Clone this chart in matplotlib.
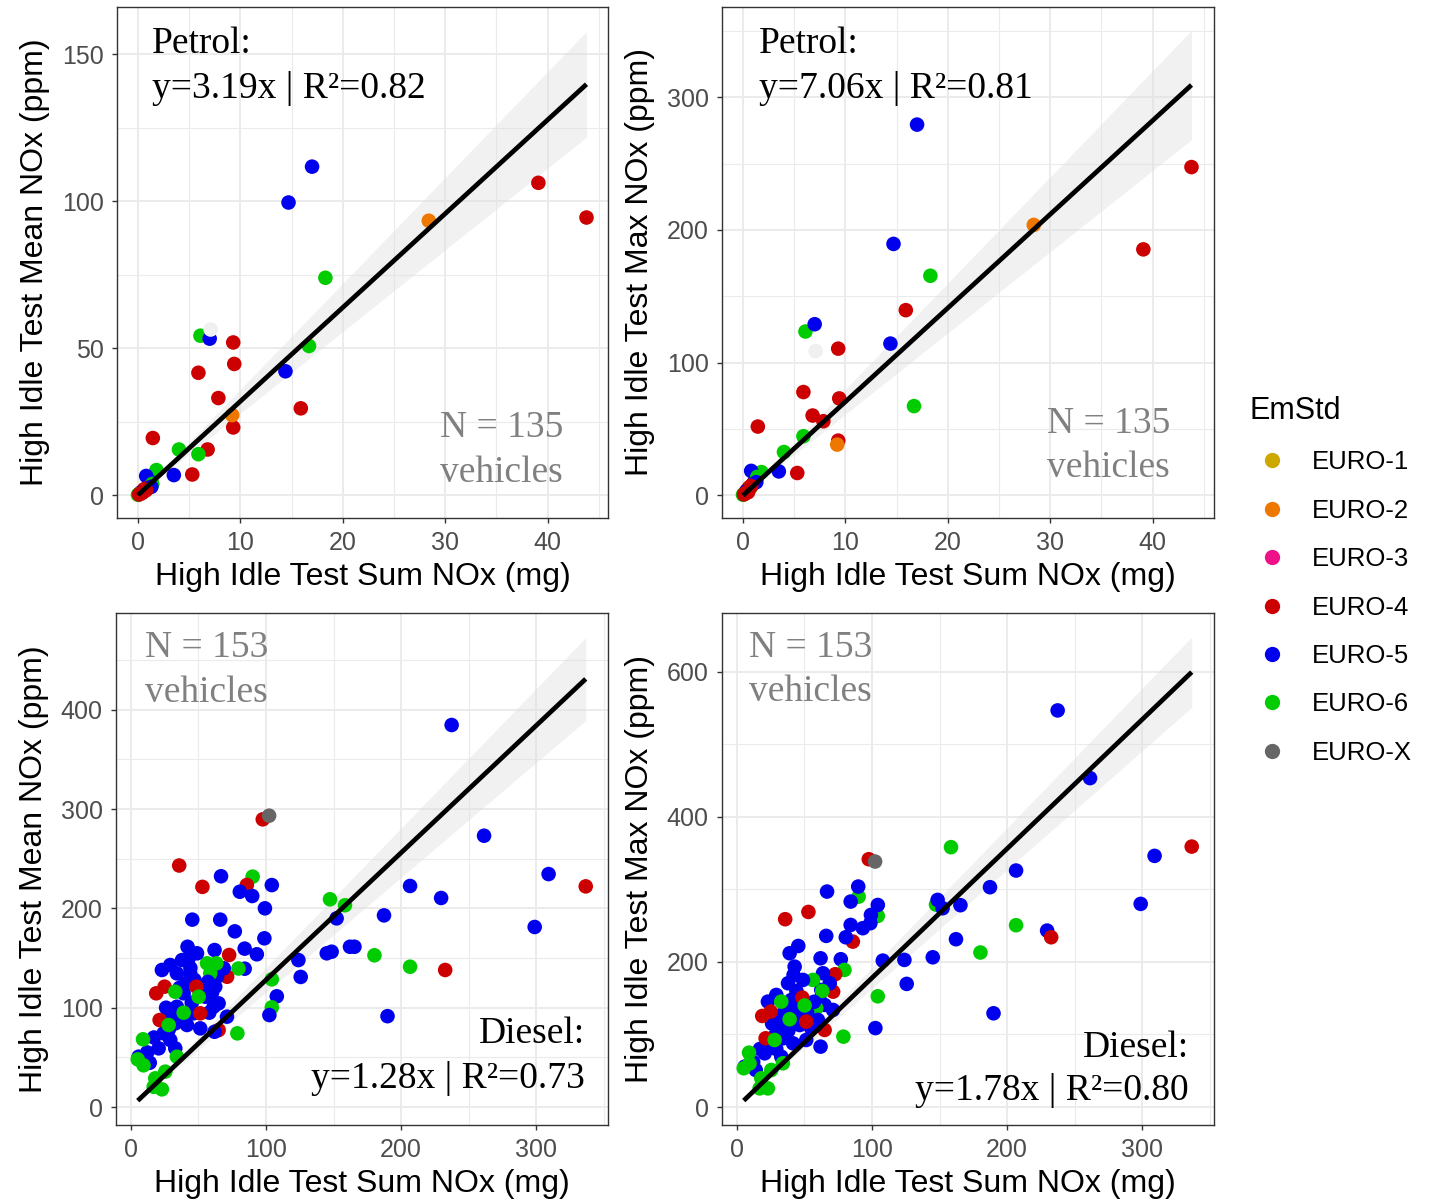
import matplotlib.pyplot as plt
from matplotlib.lines import Line2D
from matplotlib.ticker import MultipleLocator

plt.rcParams['font.family'] = ['Liberation Sans', 'DejaVu Sans']

std_colors = {
    "EURO-1": "#CCA800",
    "EURO-2": "#EE7700",
    "EURO-3": "#EE1188",
    "EURO-4": "#CC0000",
    "EURO-5": "#0000EE",
    "EURO-6": "#00CC00",
    "EURO-X": "#666666",
    "NA": "#F0F0F0",
}
legend_stds = ["EURO-1", "EURO-2", "EURO-3", "EURO-4", "EURO-5", "EURO-6", "EURO-X"]

# petrol vehicles: summed NOx (mg), mean and max NOx (ppm), emission standard
petrol_sum = [17.0, 14.7, 14.4, 39.1, 43.8, 28.4, 18.3, 16.7, 6.1, 7.0, 7.1, 9.3,
              9.4, 5.9, 7.85, 9.3, 9.2, 15.9, 1.45, 4.0, 6.8, 5.9, 5.3, 3.5, 1.8, 0.8,
              1.2, 1.0, 1.4, 0.6, 0.9, 0.4, 0.2, 1.3, 0.7, 0.3, 0.1, 0.0, 0.5, 0.2,
              0.8, 0.4, 0.1]
petrol_mean = [111.7, 99.5, 42.1, 106.2, 94.4, 93.3, 73.9, 50.7, 54.2, 53.2, 56.3, 51.9,
               44.6, 41.6, 33.0, 23.0, 27.2, 29.5, 19.4, 15.5, 15.5, 13.9, 7.0, 6.8, 8.5, 6.5,
               4.5, 3.0, 3.8, 2.0, 2.4, 1.2, 0.6, 2.8, 1.5, 0.9, 0.3, 0.1, 1.0, 0.4,
               1.7, 0.7, 0.2]
petrol_max = [279.4, 189.5, 114.4, 185.4, 247.4, 203.8, 165.5, 67.3, 123.5, 129.0, 108.8, 110.6,
              73.1, 77.9, 55.9, 41.3, 38.3, 139.6, 51.9, 32.7, 60.2, 44.6, 16.9, 18.1, 17.6, 18.5,
              12.0, 9.0, 14.0, 6.0, 8.0, 4.0, 2.0, 10.0, 5.5, 3.0, 1.0, 0.5, 2.5, 1.5,
              7.0, 2.2, 0.8]
petrol_std = ["EURO-5", "EURO-5", "EURO-5", "EURO-4", "EURO-4", "EURO-2", "EURO-6", "EURO-6",
              "EURO-6", "EURO-5", "NA", "EURO-4", "EURO-4", "EURO-4", "EURO-4", "EURO-4",
              "EURO-2", "EURO-4", "EURO-4", "EURO-6", "EURO-4", "EURO-6", "EURO-4", "EURO-5",
              "EURO-6", "EURO-5", "EURO-5", "EURO-5", "EURO-6", "EURO-4", "EURO-4", "EURO-4",
              "EURO-4", "EURO-5", "EURO-6", "EURO-5", "EURO-6", "EURO-6", "EURO-4", "EURO-4",
              "EURO-4", "EURO-4", "EURO-4"]

# diesel vehicles
diesel_sum = [237.5, 261.5, 309.3, 336.8, 299.0, 206.7, 229.7, 232.7, 187.4, 206.7, 180.3,
              190.0, 158.5, 147.4, 148.6, 152.3, 165.5, 162.2, 145.0, 124.0, 125.7, 108.0,
              104.3, 104.3, 102.5, 97.6, 102.3, 104.3, 99.2, 98.8, 90.1, 85.8, 80.6, 89.8,
              66.7, 52.9, 35.7, 45.4, 66.1, 76.9, 93.2, 84.2, 84.2, 79.6, 72.7, 71.2, 78.8,
              64.9, 61.9, 68.7, 63.7, 62.4, 64.9, 61.2, 71.1, 61.9, 56.3, 63.2, 58.7, 55.0,
              51.3, 48.9, 46.4, 43.9, 42.7, 41.9, 41.5, 40.2, 39.0, 37.8, 34.0, 34.0, 32.8,
              32.8, 29.1, 29.1, 24.2, 22.9, 20.5, 13.9, 5.7,
              44.0, 47.0, 52.0, 57.0, 60.0, 36.0, 30.0, 26.0, 45.0, 58.0, 17.0, 12.0, 28.0, 38.0,
              48.4, 24.9, 18.7, 51.3, 21.2,
              32.8, 50.1, 39.0, 27.9, 8.9, 9.3, 18.0, 25.4, 22.9, 16.8, 34.0, 5.0]
diesel_mean = [384.7, 273.2, 234.6, 222.2, 181.3, 222.6, 210.5, 138.0, 193.0, 141.3, 152.8,
               91.5, 203.2, 209.2, 156.4, 190.0, 161.4, 161.4, 154.8, 148.0, 131.0, 111.5,
               128.6, 100.4, 92.6, 289.7, 293.4, 223.5, 200.1, 169.9, 232.0, 223.6, 216.8, 212.5,
               232.4, 221.7, 243.2, 188.7, 188.7, 176.9, 153.8, 159.5, 139.3, 139.5, 153.1, 131.2, 74.2,
               77.5, 158.1, 139.7, 131.2, 121.2, 104.4, 101.0, 91.0, 75.8, 144.7, 144.7, 134.6, 111.1,
               79.2, 154.8, 94.4, 134.6, 149.7, 161.4, 82.6, 124.6, 114.5, 148.0, 134.6, 101.0, 84.3,
               59.1, 143.0, 67.5, 74.2, 138.0, 59.1, 44.6, 50.7,
               140.0, 128.0, 118.0, 126.0, 115.0, 120.0, 95.0, 100.0, 105.0, 95.0, 70.0, 55.0, 78.0, 88.0,
               121.2, 121.2, 114.5, 94.4, 87.6,
               116.1, 111.1, 95.0, 82.6, 68.2, 42.0, 28.9, 35.6, 17.8, 20.4, 50.7, 48.0]
diesel_max = [546.7, 453.4, 346.2, 359.0, 280.0, 326.0, 243.2, 234.0, 303.0, 250.6, 213.0,
              129.2, 358.2, 279.0, 285.5, 274.0, 278.2, 231.3, 206.4, 202.8, 169.7, 201.8,
              263.4, 152.6, 108.8, 341.6, 338.4, 278.5, 264.8, 253.4, 290.0, 228.0, 234.0, 303.9,
              297.0, 268.9, 258.9, 222.0, 235.9, 203.7, 246.5, 283.2, 251.0, 189.0, 183.0, 159.0, 97.0,
              106.2, 205.0, 170.6, 184.4, 161.4, 140.7, 147.6, 133.8, 83.2, 175.2, 160.0, 136.1, 108.5,
              92.4, 175.2, 113.0, 133.8, 193.5, 182.0, 87.8, 147.6, 212.0, 170.6, 113.1, 94.7, 126.9,
              69.4, 154.5, 80.0, 88.0, 145.3, 74.0, 51.0, 55.6,
              160.0, 150.0, 130.0, 145.0, 120.0, 138.0, 110.0, 115.0, 125.0, 112.0, 80.0, 62.0, 98.0, 105.0,
              150.8, 131.5, 125.5, 117.7, 94.7,
              145.3, 140.0, 121.0, 92.4, 74.9, 60.0, 39.6, 51.0, 25.7, 25.7, 60.3, 53.4]
diesel_std = (["EURO-5", "EURO-5", "EURO-5", "EURO-4", "EURO-5", "EURO-5", "EURO-5", "EURO-4",
               "EURO-5", "EURO-6", "EURO-6", "EURO-5", "EURO-6", "EURO-6", "EURO-5", "EURO-5",
               "EURO-5", "EURO-5", "EURO-5", "EURO-5", "EURO-5", "EURO-5", "EURO-6", "EURO-6",
               "EURO-5", "EURO-4", "EURO-X", "EURO-5", "EURO-5", "EURO-5", "EURO-6", "EURO-4",
               "EURO-5", "EURO-5", "EURO-5", "EURO-4", "EURO-4", "EURO-5", "EURO-5", "EURO-5",
               "EURO-5", "EURO-5", "EURO-5", "EURO-6", "EURO-4", "EURO-4", "EURO-6", "EURO-4"]
              + ["EURO-5"] * 8 + ["EURO-6"] * 3 + ["EURO-5"] * 36
              + ["EURO-4"] * 5 + ["EURO-6"] * 12)

fits = {
    "petrol_mean": (3.19, 0.82), "petrol_max": (7.06, 0.81),
    "diesel_mean": (1.28, 0.73), "diesel_max": (1.78, 0.80),
}

W, H = 1432, 1202
fig = plt.figure(figsize=(W / 100, H / 100), dpi=100)

serif = ['Liberation Serif', 'DejaVu Serif']


def make_panel(rect, x, y, std, fit, band, xlim, ylim, xstep, ystep, ylabel):
    ax = fig.add_axes(rect)
    ax.set_xlim(xlim)
    ax.set_ylim(ylim)
    ax.xaxis.set_major_locator(MultipleLocator(xstep))
    ax.xaxis.set_minor_locator(MultipleLocator(xstep / 2))
    ax.yaxis.set_major_locator(MultipleLocator(ystep))
    ax.yaxis.set_minor_locator(MultipleLocator(ystep / 2))
    ax.grid(which='major', color='#EBEBEB', lw=1.4, zorder=0)
    ax.grid(which='minor', color='#EBEBEB', lw=0.8, zorder=0)
    ax.set_axisbelow(True)
    ax.tick_params(which='major', length=3.5, width=1, color='#333333',
                   labelsize=18, labelcolor='#4D4D4D', pad=6)
    ax.tick_params(which='minor', length=0)
    for s in ax.spines.values():
        s.set_color('#333333')
        s.set_linewidth(1.0)

    ax.scatter(x, y, s=110, c=[std_colors[v] for v in std], linewidths=0, zorder=3)

    # fitted line through the origin with its confidence band
    slope = fit[0]
    xs = [min(x), max(x)]
    ax.fill_between(xs, [(slope - band) * v for v in xs], [(slope + band) * v for v in xs],
                    color='#DDDDDD', alpha=0.4, lw=0, zorder=2)
    ax.plot(xs, [slope * v for v in xs], color='black', lw=3.4, zorder=4,
            solid_capstyle='butt')

    ax.set_xlabel("High Idle Test Sum NOx (mg)", fontsize=23)
    ax.set_ylabel(ylabel, fontsize=23)
    ax.xaxis.label.set_va('center')
    ax.yaxis.label.set_va('center')
    ax.xaxis.set_label_coords(0.5, -0.116)
    ax.yaxis.set_label_coords(-0.167, 0.5)
    return ax


def frac(px_left, px_top, px_w, px_h):
    return [px_left / W, 1 - (px_top + px_h) / H, px_w / W, px_h / H]


ax1 = make_panel(frac(117, 7, 491, 511), petrol_sum, petrol_mean, petrol_std,
                 fits["petrol_mean"], 0.41, (-2.05, 45.9), (-7.8, 166), 10, 50,
                 "High Idle Test Mean NOx (ppm)")
ax2 = make_panel(frac(722, 7, 492, 511), petrol_sum, petrol_max, petrol_std,
                 fits["petrol_max"], 0.94, (-2.05, 46.0), (-17, 368), 10, 100,
                 "High Idle Test Max NOx (ppm)")
ax3 = make_panel(frac(116, 613, 492, 512), diesel_sum, diesel_mean, diesel_std,
                 fits["diesel_mean"], 0.124, (-11.1, 353.3), (-18.1, 497.5), 100, 100,
                 "High Idle Test Mean NOx (ppm)")
ax4 = make_panel(frac(722, 613, 492, 512), diesel_sum, diesel_max, diesel_std,
                 fits["diesel_max"], 0.144, (-11.1, 353.3), (-24.8, 681), 100, 200,
                 "High Idle Test Max NOx (ppm)")


def fit_label(fit):
    return f"y={fit[0]:.2f}x | R\u00b2={fit[1]:.2f}"


tkw = dict(fontsize=27, family=serif, va='baseline')
n_petrol, n_diesel = 135, 153

ax1.text(0.071, 0.910, "Petrol:", transform=ax1.transAxes, ha='left', **tkw)
ax1.text(0.071, 0.822, fit_label(fits["petrol_mean"]), transform=ax1.transAxes, ha='left', **tkw)
ax1.text(0.658, 0.159, f"N = {n_petrol}", transform=ax1.transAxes, ha='left', color='#808080', **tkw)
ax1.text(0.658, 0.070, "vehicles", transform=ax1.transAxes, ha='left', color='#808080', **tkw)

ax2.text(0.075, 0.910, "Petrol:", transform=ax2.transAxes, ha='left', **tkw)
ax2.text(0.075, 0.822, fit_label(fits["petrol_max"]), transform=ax2.transAxes, ha='left', **tkw)
ax2.text(0.661, 0.167, f"N = {n_petrol}", transform=ax2.transAxes, ha='left', color='#808080', **tkw)
ax2.text(0.661, 0.080, "vehicles", transform=ax2.transAxes, ha='left', color='#808080', **tkw)

ax3.text(0.059, 0.914, f"N = {n_diesel}", transform=ax3.transAxes, ha='left', color='#808080', **tkw)
ax3.text(0.059, 0.826, "vehicles", transform=ax3.transAxes, ha='left', color='#808080', **tkw)
ax3.text(0.953, 0.160, "Diesel:", transform=ax3.transAxes, ha='right', **tkw)
ax3.text(0.953, 0.072, fit_label(fits["diesel_mean"]), transform=ax3.transAxes, ha='right', **tkw)

ax4.text(0.055, 0.914, f"N = {n_diesel}", transform=ax4.transAxes, ha='left', color='#808080', **tkw)
ax4.text(0.055, 0.828, "vehicles", transform=ax4.transAxes, ha='left', color='#808080', **tkw)
ax4.text(0.949, 0.133, "Diesel:", transform=ax4.transAxes, ha='right', **tkw)
ax4.text(0.949, 0.049, fit_label(fits["diesel_max"]), transform=ax4.transAxes, ha='right', **tkw)

handles = [Line2D([], [], ls='none', marker='o', markersize=11, markeredgewidth=0,
                  color=std_colors[k]) for k in legend_stds]
leg = fig.legend(handles, legend_stds, title="EmStd", loc='upper left',
                 bbox_to_anchor=(1250 / W, 1 - 396 / H), frameon=False,
                 fontsize=18.5, title_fontsize=22, labelspacing=0.95,
                 handlelength=1.7, handletextpad=0.7, borderpad=0, borderaxespad=0,
                 alignment='left')

fig.savefig("out.png", dpi=100, facecolor='white')
